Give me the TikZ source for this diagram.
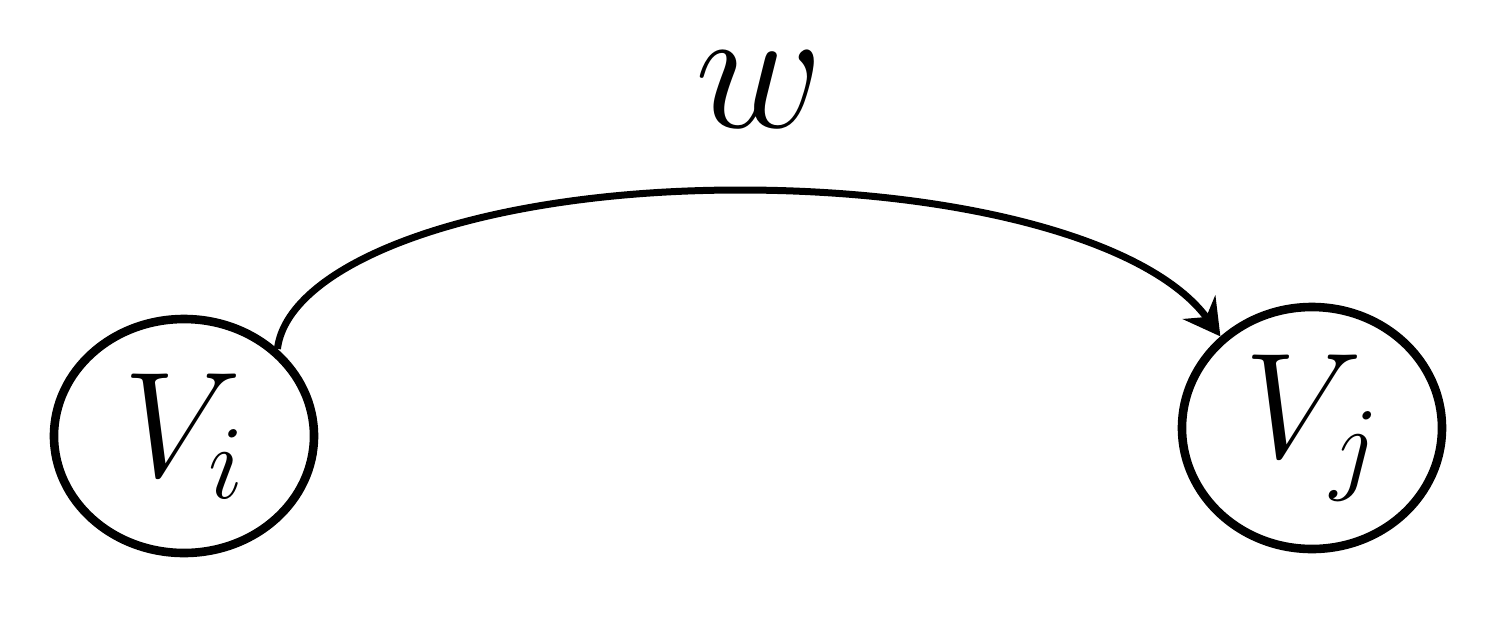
\RequirePackage{fix-cm}
\documentclass[tikz,border=0pt]{standalone}
\usetikzlibrary{shapes.geometric,arrows.meta}
\begin{document}
\begin{tikzpicture}[x=0.5pt,y=-0.5pt,
  vertex/.style={draw,ellipse,line width=4.3pt,inner sep=0pt,font=\fontsize{75}{80}\selectfont},
  edge/.style={line width=3.5pt,-{Stealth[length=18pt,width=20pt,inset=6pt]}},
  wlabel/.style={font=\fontsize{88}{90}\selectfont,inner sep=0pt}]
\useasboundingbox[fill=white] (0,0) rectangle (1506,618);
\node[vertex,minimum width=130pt,minimum height=117pt] (vi) at (184,436) {$V_i$};
\node[vertex,minimum width=130pt,minimum height=121pt] (vj) at (1312,428) {$V_j$};
\coordinate (c1) at (288,262);
\coordinate (c2) at (480,190);
\coordinate (top) at (740,190);
\coordinate (c3) at (960,190);
\coordinate (c4) at (1150,240);
\draw[edge] (vi.43) .. controls (c1) and (c2) .. (top) .. controls (c3) and (c4) .. (vj.135);
\node[wlabel] (w) at (759,90) {$w$};
\end{tikzpicture}
\end{document}
